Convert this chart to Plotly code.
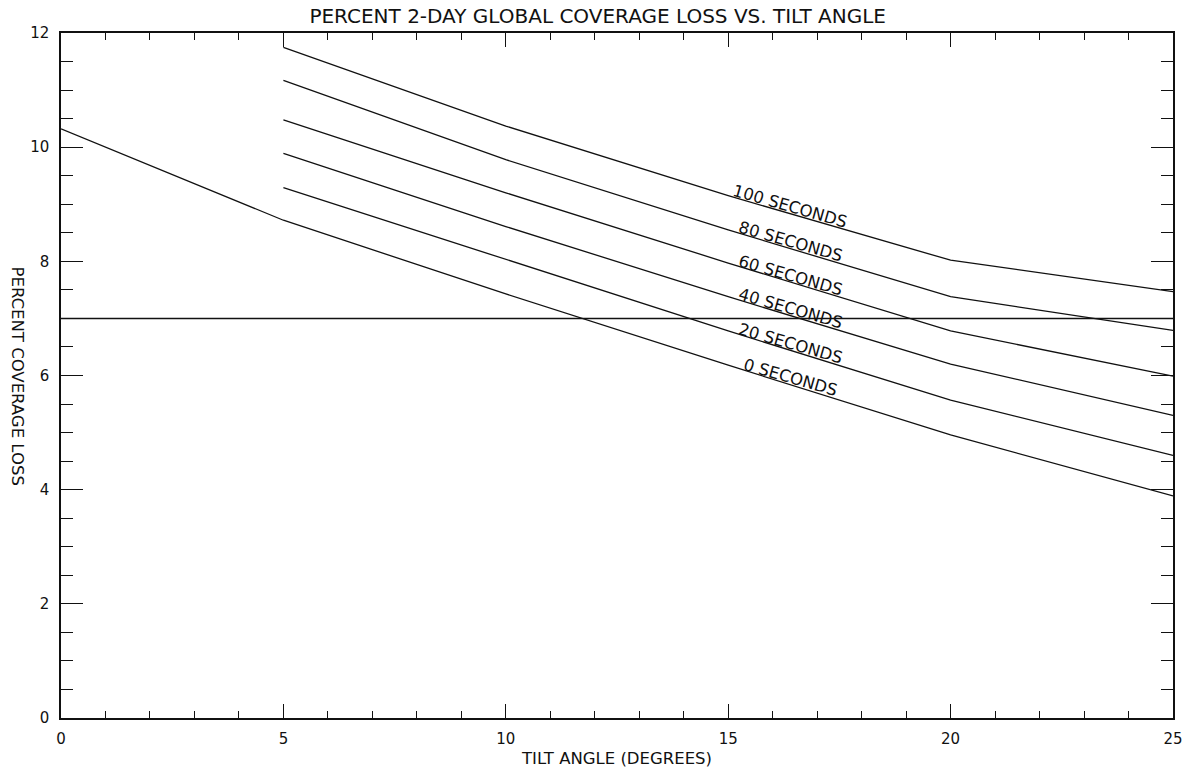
import numpy as np
import plotly.graph_objects as go

# ---- data ----
tilt_0 = [0, 5, 10, 15, 20, 25]
loss_0 = [10.32, 8.72, 7.43, 6.18, 4.96, 3.89]
tilt = [5, 10, 15, 20, 25]
series = {
    "20 SECONDS": [9.29, 8.03, 6.78, 5.57, 4.60],
    "40 SECONDS": [9.89, 8.61, 7.38, 6.20, 5.30],
    "60 SECONDS": [10.48, 9.20, 7.97, 6.78, 5.99],
    "80 SECONDS": [11.17, 9.78, 8.55, 7.38, 6.79],
    "100 SECONDS": [11.75, 10.37, 9.15, 8.02, 7.47],
}
threshold = 7.0
label_x = 16.4

title = "PERCENT 2-DAY GLOBAL COVERAGE LOSS VS. TILT ANGLE"
x_title = "TILT ANGLE (DEGREES)"
y_title = "PERCENT COVERAGE LOSS"

FONT = "DejaVu Sans, Liberation Sans, sans-serif"
INK = "#111111"

fig = go.Figure()
fig.add_trace(go.Scatter(x=tilt_0, y=loss_0, mode="lines",
                         line=dict(color=INK, width=1.3), showlegend=False))
for name, vals in series.items():
    fig.add_trace(go.Scatter(x=tilt, y=vals, mode="lines",
                             line=dict(color=INK, width=1.3), showlegend=False))
fig.add_trace(go.Scatter(x=[0, 25], y=[threshold, threshold], mode="lines",
                         line=dict(color=INK, width=1.5), showlegend=False))

# labels along lines
labels = [("0 SECONDS", tilt_0, loss_0)] + [(k, tilt, v) for k, v in series.items()]
for text, xs, ys in labels:
    yv = float(np.interp(label_x, xs, ys))
    fig.add_annotation(x=label_x, y=yv, text=text, showarrow=False,
                       textangle=16, xanchor="center", yanchor="middle",
                       yshift=7, font=dict(family=FONT, size=16.5, color=INK))

fig.add_annotation(xref="paper", yref="paper", x=0, y=0.5, xshift=-44,
                   text=y_title, textangle=90, showarrow=False,
                   xanchor="center", yanchor="middle",
                   font=dict(family=FONT, size=16.5, color=INK))

fig.update_layout(
    width=1193, height=771,
    margin=dict(l=61, r=20, t=33, b=53),
    paper_bgcolor="white", plot_bgcolor="white",
    title=dict(text=title, x=0.501, xanchor="center", y=0.979, yanchor="middle",
               font=dict(family=FONT, size=20, color=INK)),
    font=dict(family=FONT, size=15, color=INK),
)
fig.update_xaxes(range=[0, 25], dtick=5, tick0=0, ticks="inside", ticklen=14,
                 tickwidth=1.3, tickcolor=INK, showline=True, linecolor=INK,
                 linewidth=1.5, mirror="allticks", showgrid=False, zeroline=False,
                 ticklabelstandoff=6, automargin=False,
                 minor=dict(dtick=1, ticks="inside", ticklen=7, tickwidth=1.3,
                            tickcolor=INK, showgrid=False),
                 title=dict(text=x_title, standoff=6,
                            font=dict(family=FONT, size=16.5, color=INK)),
                 tickfont=dict(family=FONT, size=15, color=INK))
fig.update_yaxes(range=[0, 12], dtick=2, tick0=0, ticks="inside", ticklen=22,
                 tickwidth=1.3, tickcolor=INK, showline=True, linecolor=INK,
                 linewidth=1.5, mirror="allticks", showgrid=False, zeroline=False,
                 ticklabelstandoff=7, automargin=False,
                 minor=dict(dtick=0.5, ticks="inside", ticklen=12, tickwidth=1.3,
                            tickcolor=INK, showgrid=False),
                 tickfont=dict(family=FONT, size=15, color=INK))

fig.write_html("out.html", config={"displayModeBar": False},
               post_script="document.body.style.margin='0';")
